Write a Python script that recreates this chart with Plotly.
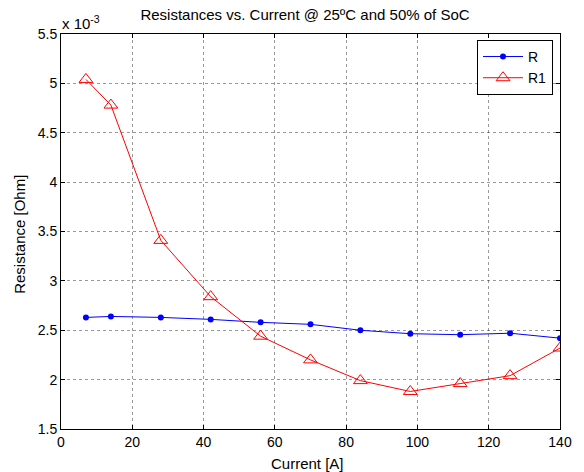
import plotly.graph_objects as go

# Current steps [A]
current = [7, 14, 28, 42, 56, 70, 84, 98, 112, 126, 140]
# Resistances in units of 1e-3 Ohm
r_vals = [2.63, 2.64, 2.63, 2.61, 2.58, 2.56, 2.50, 2.465, 2.455, 2.47, 2.42]
r1_vals = [5.04, 4.78, 3.41, 2.84, 2.44, 2.20, 1.99, 1.88, 1.96, 2.04, 2.32]

x_ticks = [0, 20, 40, 60, 80, 100, 120, 140]
y_ticks = [1.5, 2, 2.5, 3, 3.5, 4, 4.5, 5, 5.5]
y_tick_text = ["1.5", "2", "2.5", "3", "3.5", "4", "4.5", "5", "5.5"]

font = "Liberation Sans, Arial, sans-serif"

fig = go.Figure()
fig.add_trace(go.Scatter(
    x=current, y=r_vals, name="R", mode="lines+markers",
    line=dict(color="#0000ff", width=1),
    marker=dict(symbol="circle", size=6, color="#0000ff"),
))
fig.add_trace(go.Scatter(
    x=current, y=r1_vals, name="R1", mode="lines+markers",
    line=dict(color="#ff0000", width=1),
    marker=dict(symbol="triangle-up-open", size=12, color="#ff0000",
                line=dict(width=1, color="#ff0000")),
))

axis_common = dict(
    showline=True, linecolor="black", linewidth=1, mirror="ticks",
    ticks="inside", ticklen=4, tickcolor="black",
    showgrid=True, gridcolor="rgba(0,0,0,0.4)", griddash="dot", gridwidth=1,
    zeroline=False, tickfont=dict(family=font, size=14, color="black"),
)

fig.update_xaxes(range=[0, 140], tickvals=x_ticks, **axis_common)
fig.update_yaxes(range=[1.5, 5.5], tickvals=y_ticks, ticktext=y_tick_text, **axis_common)

fig.update_layout(
    width=584, height=472,
    margin=dict(l=61, r=20, t=34, b=43),
    paper_bgcolor="white", plot_bgcolor="white",
    title=dict(text="Resistances vs. Current @ 25ºC and 50% of SoC",
               xref="paper", x=0.489, xanchor="center",
               yref="container", y=1 - 15 / 472, yanchor="middle",
               font=dict(family=font, size=15, color="black")),
    legend=dict(x=0.986, y=0.985, xanchor="right", yanchor="top",
                bgcolor="white", bordercolor="black", borderwidth=1,
                font=dict(family=font, size=14, color="black"),
                itemwidth=40, tracegroupgap=2),
    showlegend=True,
    annotations=[
        dict(text="x 10<sup>-3</sup>", xref="paper", yref="paper",
             x=-0.003, y=1.0, xanchor="left", yanchor="bottom", showarrow=False,
             font=dict(family=font, size=15, color="black")),
        dict(text="Current [A]", xref="paper", yref="paper",
             x=0.493, y=-(463 - 429) / 395, xanchor="center", yanchor="middle",
             showarrow=False, font=dict(family=font, size=15, color="black")),
        dict(text="Resistance [Ohm]", xref="paper", yref="paper",
             x=-(61 - 18.5) / 503, y=(429 - 234) / 395, xanchor="center", yanchor="middle",
             textangle=-90, showarrow=False,
             font=dict(family=font, size=15, color="black")),
    ],
)

fig.write_html("out.html")
